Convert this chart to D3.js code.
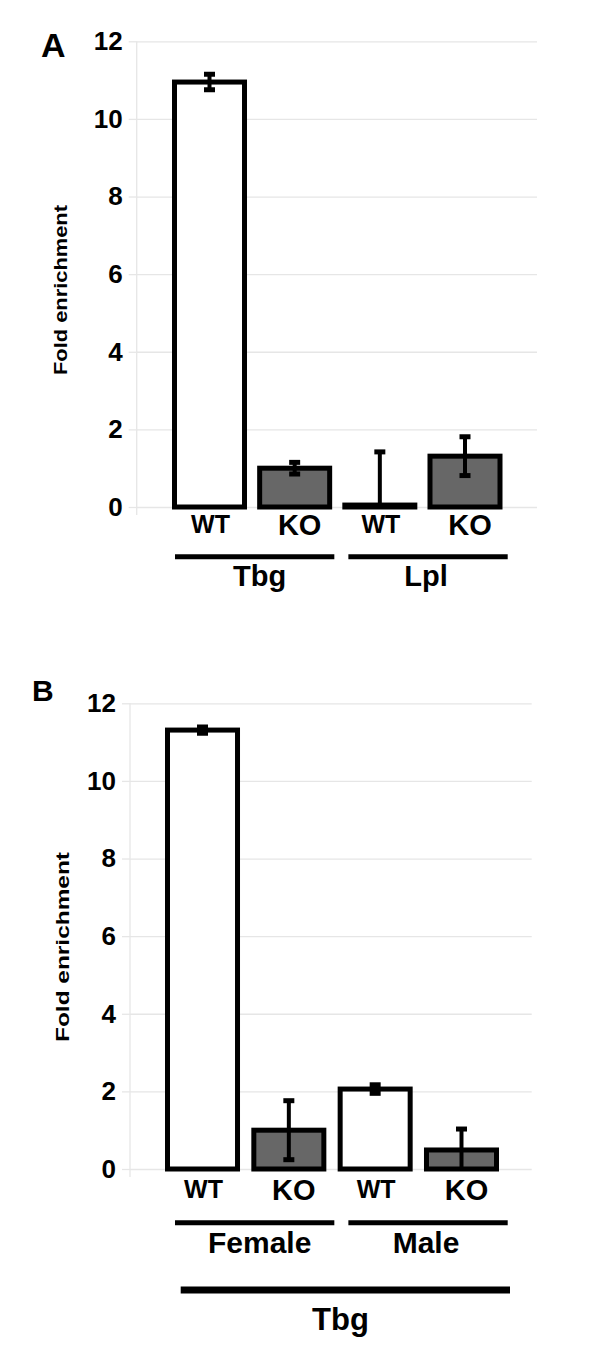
<!DOCTYPE html>
<html>
<head>
<meta charset="utf-8">
<script src="https://cdn.jsdelivr.net/npm/d3@7"></script>
<style>
  body { margin: 0; background: #fff; }
  text { font-family: "Liberation Sans", Arial, sans-serif; font-weight: bold; fill: #000; }
</style>
</head>
<body>
<div id="chart"></div>
<script>
// Data
var samples = ["WT", "KO", "WT", "KO"]
var genotypeFill = ["white", "#676767", "white", "#676767"]

var groupsA = ["Tbg", "Lpl"]
var valuesA = [10.95, 1.0, 0.05, 1.31]
var errorsA = [0.2, 0.15, 1.37, 0.5]

var groupsB = ["Female", "Male"]
var valuesB = [11.31, 1.0, 2.06, 0.49]
var errorsB = [0.08, 0.76, 0.11, 0.54]
var outerGroupB = "Tbg"

var yTicks = [0, 2, 4, 6, 8, 10, 12]
var yLabel = "Fold enrichment"

// Chart dimensions
var width = 600
var height = 1346

var svg = d3.select('#chart')
            .append('svg')
            .attr('width', width)
            .attr('height', height)

svg.append('rect').attr('width', width).attr('height', height).attr('fill', 'white')

function drawPanel (opt) {
    var yScale = d3.scaleLinear()
                   .domain([0, 12])
                   .range([opt.y0, opt.y12])

    var xScale = d3.scaleBand()
                   .domain(d3.range(samples.length))
                   .range(opt.barRange)
                   .paddingInner(opt.barPad)
                   .paddingOuter(0)

    var groupScale = d3.scaleBand()
                       .domain(opt.groups)
                       .range([175, 507.7])
                       .paddingInner(0.081)
                       .paddingOuter(0)

    var g = svg.append('g')

    // gridlines
    var grid = g.append('g')
                .attr('transform', 'translate(' + opt.axisX + ',0)')
                .call(d3.axisLeft(yScale)
                        .tickValues(yTicks)
                        .tickSizeInner(-(opt.plotRight - opt.axisX))
                        .tickSizeOuter(0)
                        .tickFormat(''))
    grid.select('.domain').remove()
    grid.selectAll('line').attr('stroke', '#e6e6e6').attr('stroke-width', 1.3)

    // tick labels with short outside ticks
    var yAxis = g.append('g')
                 .attr('transform', 'translate(' + opt.axisX + ',0)')
                 .call(d3.axisLeft(yScale)
                         .tickValues(yTicks)
                         .tickSize(8)
                         .tickPadding(6))
    yAxis.select('.domain').remove()
    yAxis.selectAll('line').attr('stroke', '#e6e6e6').attr('stroke-width', 1.3)
    yAxis.selectAll('text')
         .style('font-family', '"Liberation Sans", Arial, sans-serif')
         .style('font-weight', 'bold')
         .style('font-size', '26px')
         .attr('fill', '#000')

    // vertical axis line
    g.append('line')
     .attr('x1', opt.axisX).attr('x2', opt.axisX)
     .attr('y1', yScale(12)).attr('y2', yScale(0) + 8)
     .attr('stroke', '#e6e6e6').attr('stroke-width', 1.3)

    // bars
    g.selectAll('.bar')
     .data(opt.values)
     .enter()
     .append('rect')
     .attr('class', 'bar')
     .attr('x', (d, i) => xScale(i))
     .attr('y', (d) => yScale(d))
     .attr('width', xScale.bandwidth())
     .attr('height', (d) => yScale(0) - yScale(d))
     .attr('fill', (d, i) => genotypeFill[i])
     .attr('stroke', '#000')
     .attr('stroke-width', 5)

    // error bars, clipped at the plot area like the original
    var clipId = 'clip' + opt.name
    svg.append('clipPath').attr('id', clipId)
       .append('rect')
       .attr('x', opt.axisX).attr('y', yScale(12) - 10)
       .attr('width', opt.plotRight - opt.axisX)
       .attr('height', yScale(0) - yScale(12) + 10)

    var err = g.append('g').attr('clip-path', 'url(#' + clipId + ')')
               .selectAll('.err')
               .data(opt.values)
               .enter()
               .append('g')
    var cx = (i) => xScale(i) + xScale.bandwidth() / 2
    err.append('line')
       .attr('x1', (d, i) => cx(i)).attr('x2', (d, i) => cx(i))
       .attr('y1', (d, i) => yScale(d + opt.errors[i]))
       .attr('y2', (d, i) => yScale(d - opt.errors[i]))
       .attr('stroke', '#000').attr('stroke-width', 4)
    err.append('line')
       .attr('x1', (d, i) => cx(i) - 5.5).attr('x2', (d, i) => cx(i) + 5.5)
       .attr('y1', (d, i) => yScale(d + opt.errors[i]))
       .attr('y2', (d, i) => yScale(d + opt.errors[i]))
       .attr('stroke', '#000').attr('stroke-width', 5)
    err.append('line')
       .attr('x1', (d, i) => cx(i) - 5.5).attr('x2', (d, i) => cx(i) + 5.5)
       .attr('y1', (d, i) => yScale(d - opt.errors[i]))
       .attr('y2', (d, i) => yScale(d - opt.errors[i]))
       .attr('stroke', '#000').attr('stroke-width', 5)

    // sample labels (WT smaller than KO)
    g.selectAll('.sample')
     .data(samples)
     .enter()
     .append('text')
     .attr('x', (d, i) => cx(i) + (d == 'KO' ? 5 : 1))
     .attr('y', (d) => yScale(0) + opt.sampleDy + (d == 'KO' ? 2 : 0))
     .attr('text-anchor', 'middle')
     .style('font-size', (d) => d == 'KO' ? '29px' : '25px')
     .text((d) => d)

    // group lines and labels
    g.selectAll('.gline')
     .data(opt.groups)
     .enter()
     .append('line')
     .attr('x1', (d) => groupScale(d))
     .attr('x2', (d) => groupScale(d) + groupScale.bandwidth())
     .attr('y1', opt.groupLineY).attr('y2', opt.groupLineY)
     .attr('stroke', '#000').attr('stroke-width', 5)

    g.selectAll('.glabel')
     .data(opt.groups)
     .enter()
     .append('text')
     .attr('x', (d, i) => groupScale(d) + groupScale.bandwidth() / 2 + (i == 0 ? 5 : -2))
     .attr('y', opt.groupLabelY)
     .attr('text-anchor', 'middle')
     .style('font-size', opt.groupFont + 'px')
     .text((d) => d)

    // y-axis title
    g.append('text')
     .attr('transform', 'translate(' + opt.titleX + ',' + opt.titleY + ') rotate(-90)')
     .attr('text-anchor', 'middle')
     .attr('textLength', opt.titleLen)
     .attr('lengthAdjust', 'spacingAndGlyphs')
     .style('font-size', opt.titleFont + 'px')
     .text(yLabel)

    // panel letter
    g.append('text')
     .attr('x', opt.letterX).attr('y', opt.letterY)
     .style('font-size', opt.letterFont + 'px')
     .text(opt.name)

    return {xScale: xScale, yScale: yScale}
}

drawPanel({
    name: 'A', values: valuesA, errors: errorsA, groups: groupsA,
    y0: 507, y12: 41.3, axisX: 136.7, plotRight: 537,
    barRange: [174.5, 500], barPad: 0.178,
    sampleDy: 26, groupLineY: 556.7, groupLabelY: 586, groupFont: 29,
    titleX: 67, titleY: 290, titleLen: 170, titleFont: 18,
    letterX: 41, letterY: 57, letterFont: 34
})

var panelB = drawPanel({
    name: 'B', values: valuesB, errors: errorsB, groups: groupsB,
    y0: 1169, y12: 703.3, axisX: 130, plotRight: 531.7,
    barRange: [167.5, 496.5], barPad: 0.189,
    sampleDy: 29, groupLineY: 1222.7, groupLabelY: 1253, groupFont: 30,
    titleX: 69, titleY: 947, titleLen: 190, titleFont: 19,
    letterX: 32, letterY: 701, letterFont: 30
})

// outer group line for panel B
svg.append('line')
   .attr('x1', 180.7).attr('x2', 510)
   .attr('y1', 1290).attr('y2', 1290)
   .attr('stroke', '#000').attr('stroke-width', 7)

svg.append('text')
   .attr('x', 340.5).attr('y', 1329.5)
   .attr('text-anchor', 'middle')
   .style('font-size', '31px')
   .text(outerGroupB)
</script>
</body>
</html>
